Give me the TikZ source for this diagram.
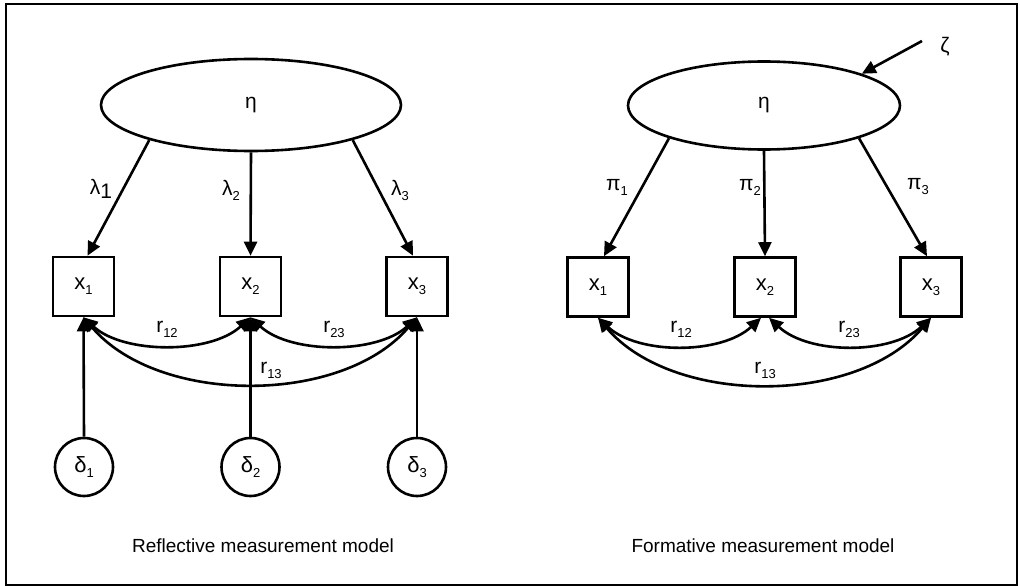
\documentclass[tikz,border=0pt]{standalone}
\usepackage{fontspec}
\setmainfont{Liberation Sans}
\usetikzlibrary{arrows.meta,shapes.geometric,calc}
\newcommand\lsub[1]{\raisebox{-5pt}{\fontsize{13}{13}\selectfont #1}}
\begin{document}
\begin{tikzpicture}[x=1pt,y=-1pt,
  ln/.style={line width=2.6pt},
  tip/.tip={Triangle[length=14pt,width=13pt]},
  arr/.style={ln,-tip},
  darr/.style={ln,tip-tip},
  lat/.style={draw,ln,ellipse,inner sep=0pt,font=\fontsize{21}{21}\selectfont},
  obs/.style={draw,ln,minimum width=61pt,minimum height=59pt,inner sep=0pt,font=\fontsize{22}{22}\selectfont},
  err/.style={draw,ln,circle,minimum size=58pt,inner sep=0pt,font=\fontsize{22}{22}\selectfont},
  lab/.style={inner sep=0pt,font=\fontsize{21}{21}\selectfont},
  captxt/.style={inner sep=0pt,font=\fontsize{19}{19}\selectfont},
]
\useasboundingbox (0,0) rectangle (1020,586);
\draw[line width=2.2pt] (6,4) rectangle (1017,585);

% ---------- Reflective ----------
\node[lat,minimum width=300pt,minimum height=92pt] (eL) at (251,105) {η};
\node[obs] (a1) at (83.5,286.5) {x\lsub{1}};
\node[obs] (a2) at (250.5,286.5) {x\lsub{2}};
\node[obs] (a3) at (417,286.5) {x\lsub{3}};
\node[err] (d1) at (84,467) {δ\lsub{1}};
\node[err] (d2) at (250.5,467) {δ\lsub{2}};
\node[err] (d3) at (417,467) {δ\lsub{3}};

\draw[arr] (eL.199) -- ([xshift=4pt]a1.north);
\draw[arr] (eL.south) -- (a2.north);
\draw[arr] (eL.341) -- ([xshift=-4pt]a3.north);
\node[lab] (l1) at (101,189) {λ\raisebox{-4pt}{1}};
\node[lab] (l2) at (231,190) {λ\lsub{2}};
\node[lab] (l3) at (400,190) {λ\lsub{3}};

\draw[arr] (d1.north) -- (a1.south);
\draw[arr] (d2.north) -- (a2.south);
\draw[arr] (d3.north) -- (a3.south);

\draw[darr] (a1.south) .. controls +(40,37) and +(-40,37) .. (a2.south);
\draw[darr] (a2.south) .. controls +(40,37) and +(-40,37) .. (a3.south);
\draw[darr] (a1.south) .. controls +(75,88) and +(-75,88) .. (a3.south);
\node[lab] (r12L) at (167,329) {r\lsub{12}};
\node[lab] (r23L) at (334,329) {r\lsub{23}};
\node[lab] (r13L) at (271,370) {r\lsub{13}};

\node[captxt] (cL) at (263,546) {Reflective measurement model};

% ---------- Formative ----------
\node[lat,minimum width=272pt,minimum height=88pt] (eR) at (764,105.5) {η};
\node[obs] (b1) at (598,287) {x\lsub{1}};
\node[obs] (b2) at (765,287) {x\lsub{2}};
\node[obs] (b3) at (931,287) {x\lsub{3}};

\draw[arr] (eR.199) -- ([xshift=6pt]b1.north);
\draw[arr] (eR.south) -- (b2.north);
\draw[arr] (eR.341) -- ([xshift=-4pt]b3.north);
\node[lab] (p1) at (617,187) {π\lsub{1}};
\node[lab] (p2) at (750,187) {π\lsub{2}};
\node[lab] (p3) at (918,187) {π\lsub{3}};

\node[lab] (zeta) at (945,47) {ζ};
\coordinate (zs) at (922,41);
\draw[arr] (zs) -- (eR.18);

\draw[darr] (b1.south) .. controls +(40,37) and +(-40,37) .. ([xshift=-4pt]b2.south);
\draw[darr] ([xshift=4pt]b2.south) .. controls +(40,37) and +(-40,37) .. (b3.south);
\draw[darr] (b1.south) .. controls +(75,88) and +(-75,88) .. (b3.south);
\node[lab] (r12R) at (681,329) {r\lsub{12}};
\node[lab] (r23R) at (849,329) {r\lsub{23}};
\node[lab] (r13R) at (765,370) {r\lsub{13}};

\node[captxt] (cR) at (763,546) {Formative measurement model};
\end{tikzpicture}
\end{document}
